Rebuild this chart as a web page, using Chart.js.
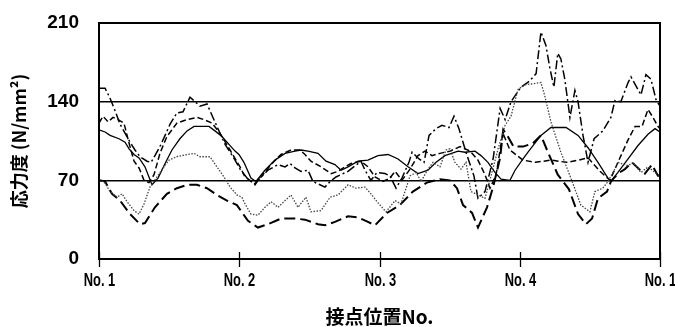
<!DOCTYPE html>
<html>
<head>
<meta charset="utf-8">
<script src="https://cdn.jsdelivr.net/npm/chart.js@4/dist/chart.umd.min.js"></script>
<style>
  html, body { margin: 0; padding: 0; background: #fff; }
  #wrap { width: 675px; height: 327px; position: relative; }
</style>
</head>
<body>
<div id="wrap"><canvas id="c"></canvas></div>
<script>
// Contact positions around the ring (degrees) and their labels
const contactTicks = [0, 90, 180, 270, 360];
const contactLabels = ['No. 1', 'No. 2', 'No. 3', 'No. 4', 'No. 1'];
const stressTicks = [0, 70, 140, 210];

// Stress curves, [position (deg), stress (N/mm2)]
const lineSolid = [[0,115],[3.9,113],[7.1,110],[12.8,107],[16.7,104],[19.3,98],[22.5,93],[25.7,90],[29.5,82],[34,66],[37.9,72],[42.4,85],[46.8,97],[51.9,107],[56.5,114],[61,118],[70.6,118],[74.4,114],[78.9,109],[83.4,102],[87.3,96],[89.8,93],[93,86],[97.5,72],[100.7,69],[106.5,79],[112.9,88],[119.4,94],[125.8,96],[129.6,97],[134.1,96],[140.5,94],[145.7,87],[151.4,84],[155.3,79],[159.8,82],[166.2,87],[172.6,88],[179,92],[185.5,93],[191.9,89],[198.3,82],[204.7,76],[211.1,79],[216.3,86],[222,92],[230.4,96],[234.9,95],[241.3,96],[245.1,92],[249.6,86],[254.1,77],[258,71],[263.7,70],[267,79],[272.1,89],[275.3,95],[283.6,110],[290,117],[299.7,117],[307.4,110],[313.8,99],[320.2,86],[326.6,72],[328.5,69],[333,77],[339.5,89],[345.9,101],[352.3,111],[356.8,116],[360,113]];

const lineDash = [[0,121],[2.6,127],[5.8,122],[9,126],[12.2,124],[16,121],[19.3,103],[22.5,87],[25.7,81],[28.9,70],[32.1,68],[35.3,75],[39.1,94],[43.6,109],[50,121],[56.5,124],[62.9,126],[67.4,124],[72.5,121],[77.6,112],[84.1,97],[90.5,82],[93.7,73],[100.1,67],[104,73],[110.4,84],[116.8,93],[123.2,97],[129,97],[132.2,93],[136,87],[142.5,82],[148.9,76],[153.4,78],[157.9,82],[161.7,85],[168.1,87],[172.6,82],[177.1,73],[182.2,69],[186.7,72],[190,78],[194.4,70],[199.6,80],[204.7,92],[209.2,96],[213.7,92],[218.8,94],[225.2,96],[231.7,100],[238.1,96],[243.2,88],[247.7,75],[250.9,63],[254.8,75],[259.2,112],[263.7,97],[272.1,88],[280,86],[290,88],[300,86],[308,88],[313.8,90],[317,85],[321.5,78],[327.9,70],[333,86],[339.5,106],[344,118],[348.5,118],[352.3,133],[355.5,126],[358.7,118],[360,116]];

const lineLongDash = [[0,70],[3.9,69],[8.3,58],[13.5,52],[19.9,40],[26.3,31],[29.5,32],[35.9,46],[43.6,58],[50,63],[56.5,66],[62.9,66],[69.3,63],[75.7,57],[82.1,52],[88.5,48],[95.6,34],[102,28],[108.4,31],[116.8,36],[125.8,36],[132.2,35],[140.5,31],[145,30],[151.4,33],[159.8,38],[166.2,37],[172.6,33],[177.1,30],[184.8,41],[193.1,48],[201.4,60],[210.4,68],[218.8,71],[225.2,70],[229.7,63],[233.6,48],[239.4,41],[243.2,28],[249,46],[252.9,64],[257.4,90],[259.4,115],[262,110],[266,100],[272.1,100],[278.5,103],[283.6,110],[288.1,95],[294.4,75],[301.6,62],[307.4,40],[312.5,31],[316.4,36],[320.2,54],[326,60],[328.5,69],[333,76],[337.5,80],[342,86],[346.5,80],[350.3,76],[354.8,84],[358.7,74],[360,74]];

const lineDot = [[0,69],[3.2,69],[7.1,60],[11.6,55],[14.8,58],[18,51],[22.5,43],[25.7,40],[28.9,49],[32.7,64],[37.2,73],[41.7,82],[44.9,88],[50,91],[56.5,93],[61,94],[64.8,91],[71.2,91],[75.7,82],[80.2,73],[84.1,64],[88.5,57],[91.7,55],[93.7,49],[97.5,40],[102,39],[106.5,46],[110.4,51],[114.9,46],[119.4,52],[123.2,57],[127.7,46],[132.8,55],[136,42],[142.5,43],[148.3,55],[153.4,57],[159.8,66],[164.9,63],[170.7,64],[174.5,58],[179,50],[184.2,42],[190,52],[193.8,49],[199.6,74],[203.5,77],[206.7,69],[211.1,80],[214.3,86],[218.8,82],[222.6,97],[225.2,98],[228.4,86],[232.3,80],[235.5,86],[238.7,60],[243.2,57],[247.7,54],[251.6,74],[256.1,98],[260.6,119],[264.4,127],[268.9,151],[273.4,155],[283.6,157],[286.1,145],[290,122],[296.4,95],[302.8,72],[309.2,48],[315,42],[318.2,60],[323.3,63],[326.6,69],[331,80],[333,86],[339.5,83],[342.7,86],[347.8,77],[352.3,82],[356.8,77],[360,74]];

const lineDashDot = [[0,152],[3.9,152],[7.1,143],[10.3,132],[13.5,120],[16.7,112],[19.9,104],[23.1,97],[26.3,91],[30.8,87],[33.4,86],[35.9,92],[39.1,100],[42.4,110],[45.6,120],[50,130],[53.9,131],[58.4,144],[61.6,140],[64.8,136],[69.3,138],[71.2,132],[74.4,122],[77.6,112],[80.9,102],[84.1,95],[87.3,88],[90.5,80],[95,72],[100.1,66],[102,70],[108.4,79],[114.9,84],[119.4,82],[122.6,85],[125.8,81],[129.6,78],[134.1,79],[137.3,69],[145,64],[148.3,69],[152.1,73],[159.8,78],[168.1,87],[170.7,79],[174.5,70],[178.4,77],[183.5,76],[186.7,74],[190.6,63],[194.4,72],[198.9,86],[200.9,95],[205.4,89],[208.6,86],[211.8,110],[216.3,116],[220.1,119],[224.6,117],[227.8,127],[231,116],[235.5,95],[240.6,74],[243.2,54],[247.7,60],[252.9,89],[257.4,134],[260.6,124],[264.4,140],[270.8,153],[276,158],[280.5,165],[283.6,202],[286.8,190],[289.3,170],[291.9,153],[294.4,183],[296.4,178],[298.9,160],[302.2,126],[305.4,150],[307.4,140],[310.6,110],[313.8,86],[317.7,107],[323.3,114],[328.5,126],[331.1,141],[334.9,140],[339.5,157],[341.4,162],[347.8,146],[351,164],[354.2,160],[357.4,142],[360,136]];

const toXY = pts => pts.map(p => ({ x: p[0], y: p[1] }));

const latin = "'Liberation Sans', Arial, sans-serif";
const cjk = "'Noto Sans CJK JP', 'Noto Sans CJK SC', sans-serif";

// Plot frame, the small marks at each contact position and the
// condensed contact labels under them
const framePlugin = {
  id: 'frame',
  afterDraw(chart) {
    const { ctx, scales } = chart;
    const xs = scales.x, ys = scales.y;
    ctx.save();
    ctx.strokeStyle = '#000';
    ctx.lineWidth = 2;
    ctx.strokeRect(xs.left, ys.top, xs.right - xs.left, ys.bottom - ys.top);
    ctx.lineWidth = 1.3;
    contactTicks.forEach((v, i) => {
      const x = Math.round(xs.getPixelForValue(v)) + 0.5;
      ctx.beginPath();
      ctx.moveTo(x, ys.bottom - 7);
      ctx.lineTo(x, ys.bottom + 8);
      ctx.stroke();

      ctx.save();
      ctx.translate(x, ys.bottom + 22);
      ctx.scale(0.68, 1);
      ctx.fillStyle = '#000';
      ctx.font = 'bold 19px ' + latin;
      ctx.textAlign = 'center';
      ctx.textBaseline = 'middle';
      ctx.fillText(contactLabels[i], 0, 0);
      ctx.restore();
    });
    ctx.restore();
  }
};

const common = { pointRadius: 0, fill: false, tension: 0, borderColor: '#000' };

new Chart(document.getElementById('c'), {
  type: 'line',
  data: {
    datasets: [
      { ...common, data: toXY(lineDot), borderWidth: 1.3, borderColor: '#444', borderDash: [1.5, 1.5] },
      { ...common, data: toXY(lineLongDash), borderWidth: 2, borderDash: [11, 5] },
      { ...common, data: toXY(lineDash), borderWidth: 1.5, borderDash: [6, 3] },
      { ...common, data: toXY(lineDashDot), borderWidth: 1.5, borderDash: [9, 3, 2, 3] },
      { ...common, data: toXY(lineSolid), borderWidth: 1.3 }
    ]
  },
  options: {
    responsive: true,
    maintainAspectRatio: false,
    animation: false,
    events: [],
    layout: { padding: { top: 23, right: 15, left: 0, bottom: 0 } },
    plugins: { legend: { display: false }, tooltip: { enabled: false } },
    scales: {
      x: {
        type: 'linear',
        min: 0, max: 360,
        afterBuildTicks: s => { s.ticks = contactTicks.map(v => ({ value: v })); },
        afterFit: s => { s.height = 68; s.paddingLeft = 0; s.paddingRight = 0; },
        grid: { display: false },
        border: { display: false },
        ticks: { display: false },
        title: {
          display: true,
          text: '接点位置No.',
          color: '#000',
          font: { family: cjk, size: 19, weight: 'bold', lineHeight: 1 },
          padding: { top: 0, bottom: 1 }
        }
      },
      y: {
        min: 0, max: 210,
        afterBuildTicks: s => { s.ticks = stressTicks.map(v => ({ value: v })); },
        afterFit: s => { s.width = 99; s.paddingTop = 0; s.paddingBottom = 0; },
        grid: {
          drawTicks: false,
          lineWidth: 1.5,
          color: c => (c.tick && (c.tick.value === 70 || c.tick.value === 140)) ? '#000' : 'rgba(0,0,0,0)'
        },
        border: { display: false },
        ticks: {
          padding: 20,
          color: '#000',
          font: { family: latin, size: 19, weight: 'bold' }
        },
        title: {
          display: true,
          text: '応力度 (N/mm²)',
          color: '#000',
          font: { family: cjk, size: 18, weight: 'bold', lineHeight: 1.2 },
          padding: { top: 8, bottom: 0 }
        }
      }
    }
  },
  plugins: [framePlugin]
});
</script>
</body>
</html>
